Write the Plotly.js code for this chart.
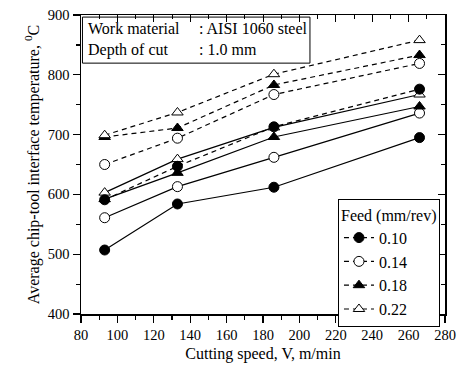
<!DOCTYPE html>
<html><head><meta charset="utf-8">
<script src="https://cdn.plot.ly/plotly-3.0.1.min.js"></script>
<style>html,body{margin:0;padding:0;background:#fff}</style>
</head><body><div id="chart" style="width:460px;height:373px"></div>
<script>
const speed = [93, 133, 186, 266];
const feeds = ["0.10", "0.14", "0.18", "0.22"];
// solid-line set
const solid010 = [507, 584, 612, 695];
const solid014 = [561, 613, 662, 736];
const solid018 = [592, 636, 696, 747];
const solid022 = [603, 659, 712, 767];
// dashed-line set
const dash010 = [591, 647, 713, 776];
const dash014 = [650, 694, 767, 819];
const dash018 = [696, 711, 783, 833];
const dash022 = [699, 737, 801, 858];

const markers = [
  {symbol: 'circle', color: '#000'},
  {symbol: 'circle', color: '#fff'},
  {symbol: 'triangle-up', color: '#000'},
  {symbol: 'triangle-up', color: '#fff'}
];
const solidSets = [solid010, solid014, solid018, solid022];
const dashSets = [dash010, dash014, dash018, dash022];
const traces = [];
solidSets.forEach((ys, i) => traces.push({
  x: speed, y: ys, type: 'scatter', mode: 'lines+markers', showlegend: false,
  line: {color: '#000', width: 1.2, dash: 'solid'},
  marker: {symbol: markers[i].symbol, color: markers[i].color, size: 10, line: {color: '#000', width: 1}}
}));
dashSets.forEach((ys, i) => traces.push({
  x: speed, y: ys, type: 'scatter', mode: 'lines+markers', name: feeds[i],
  line: {color: '#000', width: 1.2, dash: '5px,4px'},
  marker: {symbol: markers[i].symbol, color: markers[i].color, size: 10, line: {color: '#000', width: 1}}
}));
traces.push({x: [80], y: [400], xaxis: 'x2', yaxis: 'y2', mode: 'markers', marker: {opacity: 0}, showlegend: false, hoverinfo: 'skip'});

const FAM = 'Liberation Serif, Times New Roman, serif';
const f = (s) => ({family: FAM, size: s, color: '#000'});
const layout = {
  width: 460, height: 373,
  margin: {l: 81, r: 15, t: 15, b: 59},
  paper_bgcolor: '#fff', plot_bgcolor: '#fff',
  font: f(14),
  showlegend: true,
  xaxis: {
    range: [80, 280], dtick: 20, tick0: 80, ticks: 'outside', ticklen: 7, tickwidth: 1.2, tickcolor: '#000',
    minor: {dtick: 10, ticks: 'outside', ticklen: 4, tickcolor: '#000'},
    showline: true, linecolor: '#000', linewidth: 1.5, showgrid: false, zeroline: false,
    tickfont: f(14.5),
    title: {text: 'Cutting speed, V, m/min', font: f(16), standoff: 6}
  },
  yaxis: {
    range: [400, 900], dtick: 100, tick0: 400, ticks: 'outside', ticklen: 7, tickwidth: 1.2, tickcolor: '#000',
    minor: {dtick: 50, ticks: 'outside', ticklen: 4, tickcolor: '#000'},
    showline: true, linecolor: '#000', linewidth: 1.5, showgrid: false, zeroline: false,
    tickfont: f(14.5),
    title: {text: 'Average chip-tool interface temperature, <sup>0</sup>C', font: f(16), standoff: 4}
  },
  xaxis2: {
    overlaying: 'x', side: 'top', range: [80, 280], dtick: 20, tick0: 80, ticks: 'inside', ticklen: 7, tickcolor: '#000',
    minor: {dtick: 10, ticks: 'inside', ticklen: 4, tickcolor: '#000'},
    showticklabels: false, showline: true, linecolor: '#000', linewidth: 1.5, showgrid: false, zeroline: false
  },
  yaxis2: {
    overlaying: 'y', side: 'right', range: [400, 900], dtick: 100, tick0: 400, ticks: 'inside', ticklen: 7, tickcolor: '#000',
    minor: {dtick: 50, ticks: 'inside', ticklen: 4, tickcolor: '#000'},
    showticklabels: false, showline: true, linecolor: '#000', linewidth: 1.5, showgrid: false, zeroline: false
  },
  legend: {
    x: 0.706, y: 0.385, xanchor: 'left', yanchor: 'top',
    bgcolor: '#fff', bordercolor: '#000', borderwidth: 1,
    title: {text: 'Feed (mm/rev)', font: f(16)},
    font: f(16),
    tracegroupgap: 0, itemwidth: 30
  },
  shapes: [{
    type: 'rect', xref: 'paper', yref: 'paper', x0: 0.004, x1: 0.629, y0: 0.839, y1: 0.993,
    line: {color: '#000', width: 1}, fillcolor: 'rgba(0,0,0,0)'
  }],
  annotations: [
    {xref: 'paper', yref: 'paper', x: 0.015, y: 0.99, xanchor: 'left', yanchor: 'top', showarrow: false, align: 'left',
     text: 'Work material<br>Depth of cut', font: f(16)},
    {xref: 'paper', yref: 'paper', x: 0.318, y: 0.99, xanchor: 'left', yanchor: 'top', showarrow: false, align: 'left',
     text: ': AISI 1060 steel<br>: 1.0 mm', font: f(16)}
  ]
};
Plotly.newPlot('chart', traces, layout, {displayModeBar: false, staticPlot: true});
</script></body></html>
